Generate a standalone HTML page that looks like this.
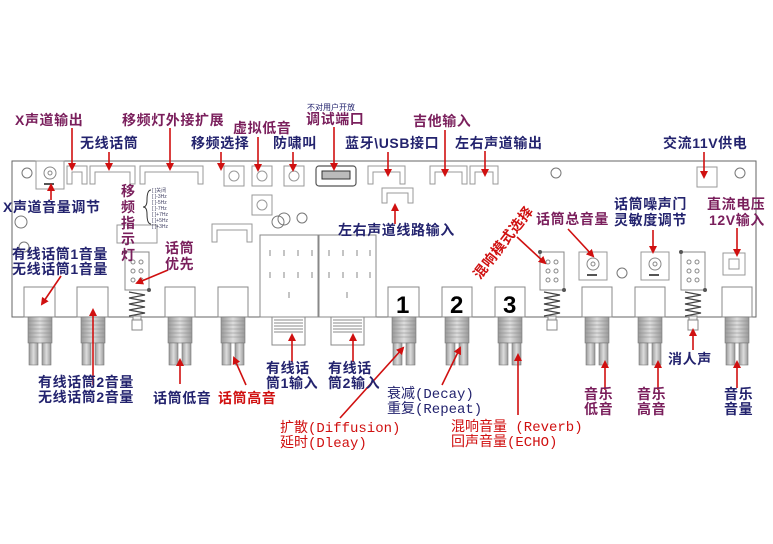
<!DOCTYPE html>
<html><head><meta charset="utf-8"><style>
html,body{margin:0;padding:0;background:#fff;}
svg{display:block;}
text{font-family:"Liberation Sans","Noto Sans CJK SC",sans-serif;font-size:14px;font-weight:bold;letter-spacing:0.6px;}
.n{fill:#23236e;}
.m{fill:#7a1f5c;}
.r{fill:#d01010;}
.mono{font-family:"Liberation Mono","Noto Sans CJK SC",monospace;font-weight:normal;letter-spacing:0;}
</style></head><body>
<svg width="773" height="544" viewBox="0 0 773 544" xmlns="http://www.w3.org/2000/svg">
<defs>
<marker id="ah" markerWidth="8" markerHeight="8" refX="6" refY="4" orient="auto" markerUnits="userSpaceOnUse">
<path d="M0,0 L8,4 L0,8 z" fill="#d01010"/></marker>
<linearGradient id="gt" x1="0" x2="1"><stop offset="0" stop-color="#999"/><stop offset=".5" stop-color="#ddd"/><stop offset="1" stop-color="#999"/></linearGradient>
<g id="knob">
<rect x="-12" y="317" width="24" height="26" fill="url(#gt)" stroke="#777" stroke-width=".6"/>
<path d="M-12,321h24M-12,325h24M-12,329h24M-12,333h24M-12,337h24" stroke="#888" stroke-width=".6"/>
<rect x="-11" y="343" width="9" height="22" fill="url(#gt)" stroke="#777" stroke-width=".6"/>
<rect x="2" y="343" width="9" height="22" fill="url(#gt)" stroke="#777" stroke-width=".6"/>
</g>
<g id="spring">
<rect x="-12" y="252" width="24" height="38" fill="#fff" stroke="#888"/>
<circle cx="-4" cy="262" r="2" fill="none" stroke="#888"/><circle cx="4" cy="262" r="2" fill="none" stroke="#888"/>
<circle cx="-4" cy="271" r="2" fill="none" stroke="#888"/><circle cx="4" cy="271" r="2" fill="none" stroke="#888"/>
<circle cx="-4" cy="280" r="2" fill="none" stroke="#888"/><circle cx="4" cy="280" r="2" fill="none" stroke="#888"/>
<circle cx="-12" cy="252" r="2" fill="#555"/><circle cx="12" cy="290" r="2" fill="#555"/>
<path d="M-8,292L8,295L-8,298L8,301L-8,304L8,307L-8,310L8,313L-8,316" fill="none" stroke="#444" stroke-width="1.2"/>
<rect x="-4" y="316" width="8" height="14" fill="#eee" stroke="#888"/>
<rect x="-5" y="320" width="10" height="10" fill="#fff" stroke="#888"/>
</g>
<g id="pot">
<rect x="-14" y="-14" width="28" height="28" fill="#fff" stroke="#999"/>
<circle cx="0" cy="-2" r="6" fill="none" stroke="#888"/><circle cx="0" cy="-2" r="2" fill="none" stroke="#888"/>
<rect x="-6" y="8" width="10" height="2" fill="#555"/>
</g>
</defs>

<rect x="12" y="161" width="744" height="156" fill="#fff" stroke="#666" stroke-width="1"/>
<circle cx="27" cy="173" r="5" fill="none" stroke="#777"/>
<circle cx="21" cy="222" r="6" fill="none" stroke="#777"/>
<circle cx="24" cy="247" r="5" fill="none" stroke="#777"/>
<circle cx="556" cy="173" r="5" fill="none" stroke="#777"/>
<circle cx="740" cy="173" r="5" fill="none" stroke="#777"/>
<circle cx="622" cy="273" r="5" fill="none" stroke="#777"/>
<circle cx="278" cy="222" r="6" fill="none" stroke="#777"/><circle cx="284" cy="219" r="6" fill="none" stroke="#777"/>
<circle cx="302" cy="218" r="5" fill="none" stroke="#777"/>

<use href="#pot" x="50" y="175"/>
<g fill="none" stroke="#999" stroke-width="1">
<path d="M67,166h20v18h-5v-12h-10v12h-5z"/>
<path d="M90,166h45v18h-5v-12h-35v12h-5z"/>
<path d="M140,166h63v18h-5v-12h-53v12h-5z"/>
<path d="M117,225h40v18h-40z"/>
<path d="M368,166h37v18h-5v-12h-27v12h-5z"/>
<path d="M382,188h31v15h-5v-10h-21v10h-5z"/>
<path d="M430,166h37v18h-5v-12h-27v12h-5z"/>
<path d="M470,166h28v18h-5v-12h-18v12h-5z"/>
<path d="M697,167h20v20h-20z"/>
<path d="M224,166h20v20h-20z"/><circle cx="234" cy="176" r="5"/>
<path d="M252,166h20v20h-20z"/><circle cx="262" cy="176" r="5"/>
<path d="M284,166h20v20h-20z"/><circle cx="294" cy="176" r="5"/>
<path d="M252,195h20v20h-20z"/><circle cx="262" cy="205" r="5"/>
<path d="M212,224h40v18h-5v-12h-30v12h-5z"/>
<path d="M723,253h22v22h-22z"/><path d="M729,259h10v10h-10z"/>
</g>
<rect x="316" y="166" width="40" height="20" rx="3" fill="#fff" stroke="#555" stroke-width="1.2"/>
<rect x="322" y="171" width="28" height="8" fill="#bbb" stroke="#333"/>
<g fill="#446">
<text x="152" y="192" style="font-size:5px;font-weight:normal;letter-spacing:0">[ ]关闭</text>
<text x="152" y="198" style="font-size:5px;font-weight:normal;letter-spacing:0">[ ]-3Hz</text>
<text x="152" y="204" style="font-size:5px;font-weight:normal;letter-spacing:0">[ ]-5Hz</text>
<text x="152" y="210" style="font-size:5px;font-weight:normal;letter-spacing:0">[ ]-7Hz</text>
<text x="152" y="216" style="font-size:5px;font-weight:normal;letter-spacing:0">[ ]+7Hz</text>
<text x="152" y="222" style="font-size:5px;font-weight:normal;letter-spacing:0">[ ]+5Hz</text>
<text x="152" y="228" style="font-size:5px;font-weight:normal;letter-spacing:0">[ ]+3Hz</text>
</g>
<path d="M151,190 q-4,0 -4,10 q0,7 -4,7 q4,0 4,7 q0,10 4,10" fill="none" stroke="#333"/>

<g fill="#fff" stroke="#888">
<rect x="260" y="235" width="58" height="82"/>
<rect x="319" y="235" width="57" height="82"/>
<rect x="272" y="317" width="33" height="28"/>
<rect x="331" y="317" width="33" height="28"/>
</g>
<g fill="none" stroke="#888">
<path d="M270,250v6M284,250v6M298,250v6M312,250v6M270,272v6M284,272v6M298,272v6M312,272v6M289,292v6"/>
<path d="M329,250v6M343,250v6M357,250v6M370,250v6M329,272v6M343,272v6M357,272v6M370,272v6M347,292v6"/>
</g>
<path d="M274,320h29M274,323h29M274,326h29M274,329h29M274,332h29M333,320h29M333,323h29M333,326h29M333,329h29M333,332h29" stroke="#888"/>

<g fill="#fff" stroke="#888">
<rect x="24" y="287" width="31" height="30"/><rect x="77" y="287" width="31" height="30"/>
<rect x="165" y="287" width="30" height="30"/><rect x="218" y="287" width="30" height="30"/>
<rect x="388" y="287" width="31" height="30"/><rect x="442" y="287" width="30" height="30"/>
<rect x="495" y="287" width="30" height="30"/><rect x="582" y="287" width="30" height="30"/>
<rect x="635" y="287" width="30" height="30"/><rect x="722" y="287" width="30" height="30"/>
</g>
<text x="396" y="313" style="font-size:24px;font-weight:bold;letter-spacing:0">1</text>
<text x="450" y="313" style="font-size:24px;font-weight:bold;letter-spacing:0">2</text>
<text x="503" y="313" style="font-size:24px;font-weight:bold;letter-spacing:0">3</text>
<use href="#knob" x="40"/><use href="#knob" x="93"/><use href="#knob" x="180"/><use href="#knob" x="233"/>
<use href="#knob" x="404"/><use href="#knob" x="457"/><use href="#knob" x="510"/><use href="#knob" x="597"/>
<use href="#knob" x="650"/><use href="#knob" x="737"/>
<use href="#spring" x="137"/><use href="#spring" x="552"/><use href="#spring" x="693"/>
<use href="#pot" x="593" y="266"/><use href="#pot" x="655" y="266"/>

<g stroke="#d01010" stroke-width="1.6" marker-end="url(#ah)">
<line x1="72" y1="128" x2="72" y2="169"/>
<line x1="109" y1="152" x2="109" y2="169"/>
<line x1="170" y1="128" x2="170" y2="169"/>
<line x1="221" y1="152" x2="221" y2="169"/>
<line x1="258" y1="137" x2="258" y2="170"/>
<line x1="293" y1="152" x2="293" y2="170"/>
<line x1="334" y1="127" x2="334" y2="169"/>
<line x1="388" y1="152" x2="388" y2="175"/>
<line x1="445" y1="130" x2="445" y2="175"/>
<line x1="485" y1="151" x2="485" y2="175"/>
<line x1="704" y1="152" x2="704" y2="177"/>
<line x1="51" y1="200" x2="51" y2="185"/>
<line x1="395" y1="224" x2="395" y2="205"/>
<line x1="61" y1="276" x2="42" y2="304"/>
<line x1="168" y1="270" x2="137" y2="283"/>
<line x1="517" y1="237" x2="545" y2="263"/>
<line x1="568" y1="229" x2="593" y2="256"/>
<line x1="653" y1="230" x2="653" y2="252"/>
<line x1="737" y1="228" x2="737" y2="255"/>
<line x1="93" y1="385" x2="93" y2="310"/>
<line x1="180" y1="384" x2="180" y2="360"/>
<line x1="246" y1="385" x2="234" y2="358"/>
<line x1="292" y1="362" x2="292" y2="335"/>
<line x1="353" y1="362" x2="353" y2="335"/>
<line x1="340" y1="418" x2="403" y2="348"/>
<line x1="442" y1="385" x2="460" y2="348"/>
<line x1="518" y1="415" x2="518" y2="355"/>
<line x1="605" y1="390" x2="605" y2="362"/>
<line x1="658" y1="390" x2="658" y2="362"/>
<line x1="693" y1="350" x2="693" y2="330"/>
<line x1="737" y1="388" x2="737" y2="362"/>
</g>

<text class="m" x="15" y="125">X声道输出</text>
<text class="n" x="80" y="148">无线话筒</text>
<text class="m" x="122" y="125">移频灯外接扩展</text>
<text class="n" x="191" y="148">移频选择</text>
<text class="m" x="233" y="133">虚拟低音</text>
<text class="n" x="273" y="148">防啸叫</text>
<text class="n" x="307" y="110" style="font-size:8px;font-weight:normal;letter-spacing:0">不对用户开放</text>
<text class="m" x="306" y="124">调试端口</text>
<text class="n" x="345" y="148">蓝牙\USB接口</text>
<text class="m" x="413" y="126">吉他输入</text>
<text class="n" x="455" y="148">左右声道输出</text>
<text class="n" x="663" y="148">交流11V供电</text>
<text class="n" x="3" y="212">X声道音量调节</text>
<g class="m">
<text x="121" y="196">移</text><text x="121" y="212">频</text><text x="121" y="228">指</text><text x="121" y="244">示</text><text x="121" y="260">灯</text>
</g>
<text class="n" x="338" y="235">左右声道线路输入</text>
<text class="n" x="12" y="259">有线话筒1音量</text>
<text class="n" x="12" y="274">无线话筒1音量</text>
<text class="m" x="165" y="253">话筒</text>
<text class="m" x="165" y="269">优先</text>
<text class="r" transform="translate(480,280) rotate(-52)">混响模式选择</text>
<text class="m" x="536" y="224">话筒总音量</text>
<text class="n" x="614" y="209">话筒噪声门</text>
<text class="n" x="614" y="225">灵敏度调节</text>
<text class="m" x="707" y="209">直流电压</text>
<text class="m" x="709" y="225">12V输入</text>

<text class="n" x="38" y="387">有线话筒2音量</text>
<text class="n" x="38" y="402">无线话筒2音量</text>
<text class="n" x="153" y="403">话筒低音</text>
<text class="r" x="218" y="403">话筒高音</text>
<text class="n" x="266" y="373">有线话</text>
<text class="n" x="266" y="388">筒1输入</text>
<text class="n" x="328" y="373">有线话</text>
<text class="n" x="328" y="388">筒2输入</text>
<text class="n mono" x="387" y="398">衰减(Decay)</text>
<text class="n mono" x="387" y="413">重复(Repeat)</text>
<text class="r mono" x="280" y="432">扩散(Diffusion)</text>
<text class="r mono" x="280" y="447">延时(Dleay)</text>
<text class="r mono" x="451" y="431">混响音量 (Reverb)</text>
<text class="r mono" x="451" y="446">回声音量(ECHO)</text>
<text class="m" x="584" y="399">音乐</text><text class="m" x="584" y="414">低音</text>
<text class="m" x="637" y="399">音乐</text><text class="m" x="637" y="414">高音</text>
<text class="n" x="668" y="364">消人声</text>
<text class="n" x="724" y="399">音乐</text><text class="n" x="724" y="414">音量</text>
</svg>
</body></html>
